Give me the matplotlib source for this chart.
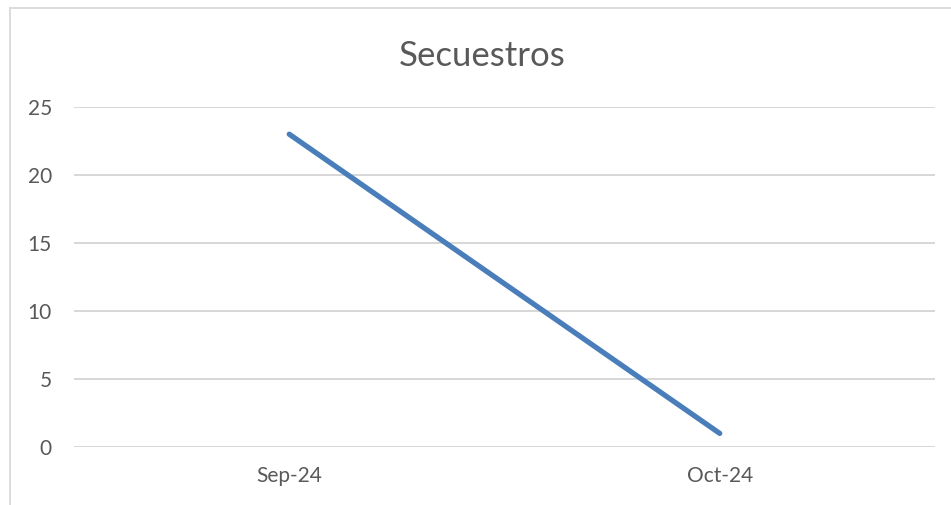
import matplotlib
matplotlib.use("Agg")
import matplotlib.pyplot as plt
from matplotlib.lines import Line2D

# Data
months = ["Sep-24", "Oct-24"]
secuestros = [23, 1]
y_ticks = [0, 5, 10, 15, 20, 25]

plt.rcParams['font.family'] = ['Lato', 'DejaVu Sans']

fig = plt.figure(figsize=(9.51, 5.05), dpi=100)
ax = fig.add_axes([74 / 951, 1 - 447 / 505, 861 / 951, 340 / 505])

x = list(range(len(months)))
ax.plot(x, secuestros, color='#4a7ebb', linewidth=3.8, solid_capstyle='round')

ax.set_xlim(-0.5, len(months) - 0.5)
ax.set_ylim(0, 25)
ax.set_yticks(y_ticks)
ax.set_xticks(x)
ax.set_xticklabels(months)
ax.yaxis.grid(True, color='#d4d4d4', linewidth=1.3)
ax.set_axisbelow(True)
for s in ax.spines.values():
    s.set_visible(False)
ax.tick_params(axis='both', length=0, labelsize=15, labelcolor='#595959')
ax.tick_params(axis='y', pad=16)
ax.tick_params(axis='x', pad=14)

fig.text(482 / 951, 1 - 56 / 505, "Secuestros", ha='center', va='center',
         fontsize=25, color='#595959')

# chart area border (cropped at right/bottom)
fig.add_artist(Line2D([10 / 951, 10 / 951], [0, 1 - 7.5 / 505], transform=fig.transFigure,
                      color='#d9d9d9', linewidth=1.3))
fig.add_artist(Line2D([10 / 951, 1], [1 - 7.5 / 505, 1 - 7.5 / 505], transform=fig.transFigure,
                      color='#d9d9d9', linewidth=1.3))

fig.savefig("out.png", dpi=100)
